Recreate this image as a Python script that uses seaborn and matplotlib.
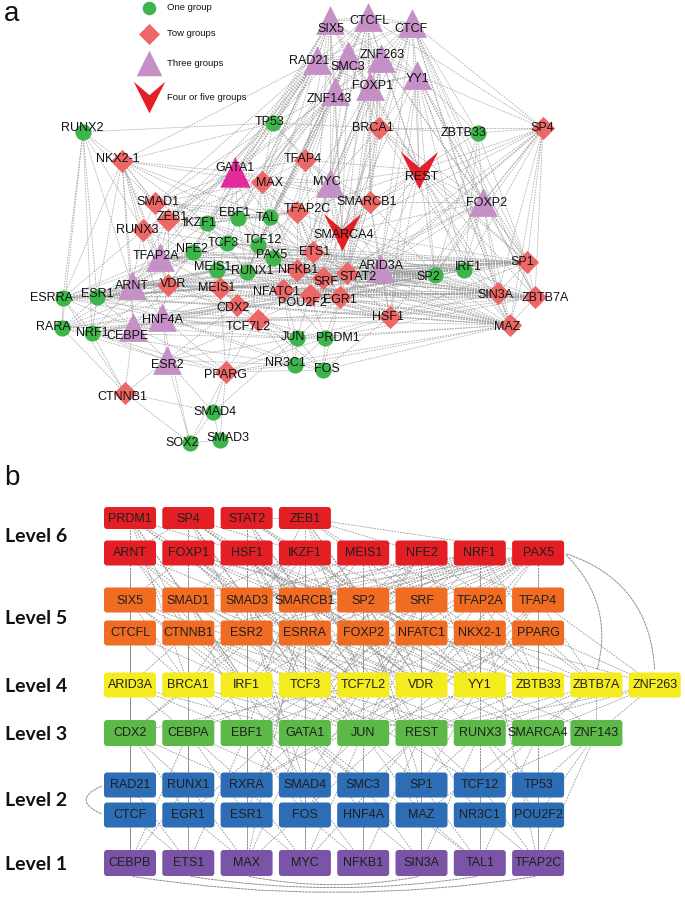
"""
Regulatory network of TFs (a) and the hierarchy levels of the same TFs (b).
"""

import matplotlib
matplotlib.use('Agg')

from matplotlib.patches import FancyBboxPatch, FancyArrowPatch
from matplotlib.collections import LineCollection
from matplotlib.path import Path

import matplotlib.pyplot as plt
import pandas as pd
import seaborn as sns


# ---------------- panel a data ----------------
one_group = ['TP53', 'ZBTB33', 'RUNX2', 'TAL', 'EBF1', 'IKZF1', 'NFE2', 'TCF3', 'TCF12', 'PAX5',
             'MEIS1', 'RUNX1', 'ESR1', 'ESRRA', 'NRF1', 'RARA', 'JUN', 'PRDM1', 'NR3C1', 'FOS',
             'SMAD4', 'SOX2', 'SMAD3', 'IRF1', 'SP2']
two_groups = ['BRCA1', 'SP4', 'NKX2-1', 'MAX', 'TFAP4', 'SMARCB1', 'TFAP2C', 'ZEB1', 'SMAD1',
              'RUNX3', 'ETS1', 'NFKB1', 'SRF', 'STAT2', 'EGR1', 'POU2F2', 'NFATC1', 'MEIS1b',
              'VDR', 'CDX2', 'TCF7L2', 'PPARG', 'CTNNB1', 'SP1', 'SIN3A', 'ZBTB7A', 'HSF1', 'MAZ']
three_groups = ['SIX5', 'CTCFL', 'CTCF', 'RAD21', 'SMC3', 'ZNF263', 'YY1', 'FOXP1', 'ZNF143',
                'MYC', 'TFAP2A', 'ARID3A', 'ARNT', 'HNF4A', 'CEBPE', 'ESR2', 'FOXP2']
highlighted = ['GATA1']
four_five_groups = ['REST', 'SMARCA4']

# node layout: name -> (x, y, label x, label y) in pixels
layout = {
    'SIX5': (330, 20, 331, 29), 'CTCFL': (368, 17, 369, 21), 'CTCF': (412, 23, 411, 29),
    'RAD21': (317, 60, 309, 61), 'SMC3': (348, 55, 348, 67), 'ZNF263': (381, 58, 382, 55),
    'YY1': (417, 75, 418, 79), 'FOXP1': (370, 86, 373, 86), 'ZNF143': (335, 91, 329, 99),
    'TP53': (273, 123, 270, 122), 'BRCA1': (379, 128, 373, 128), 'ZBTB33': (478, 133, 464, 133),
    'SP4': (543, 128, 542, 128), 'REST': (419, 170, 422, 177), 'RUNX2': (83, 132, 82, 128),
    'NKX2-1': (122, 161, 118, 159), 'GATA1': (235, 172, 235, 168), 'MAX': (262, 182, 270, 183),
    'TFAP4': (305, 160, 303, 159), 'MYC': (330, 183, 327, 182), 'SMARCB1': (370, 202, 367, 202),
    'SMARCA4': (342, 232, 344, 235), 'TFAP2C': (297, 212, 307, 209), 'TAL': (270, 217, 267, 218),
    'EBF1': (238, 218, 235, 213), 'IKZF1': (207, 223, 200, 223), 'ZEB1': (168, 220, 172, 217),
    'SMAD1': (155, 203, 158, 202), 'RUNX3': (143, 230, 137, 230), 'TFAP2A': (160, 257, 156, 256),
    'NFE2': (193, 252, 192, 249), 'TCF3': (227, 243, 223, 243), 'TCF12': (258, 245, 263, 240),
    'PAX5': (273, 258, 272, 255), 'ETS1': (313, 252, 315, 252), 'MEIS1': (217, 270, 213, 267),
    'RUNX1': (247, 272, 252, 271), 'NFKB1': (297, 270, 298, 270), 'SRF': (323, 278, 326, 282),
    'STAT2': (347, 273, 358, 277), 'ARID3A': (380, 268, 381, 266), 'EGR1': (340, 297, 340, 300),
    'POU2F2': (310, 295, 302, 303), 'NFATC1': (283, 290, 277, 292), 'MEIS1b': (220, 288, 217, 288),
    'VDR': (168, 285, 173, 284), 'ARNT': (132, 285, 132, 286), 'ESR1': (97, 297, 97, 294),
    'ESRRA': (63, 298, 52, 298), 'CDX2': (237, 305, 233, 308), 'TCF7L2': (258, 320, 248, 327),
    'HNF4A': (162, 317, 163, 320), 'CEBPE': (133, 327, 128, 336), 'NRF1': (92, 333, 92, 333),
    'RARA': (62, 328, 53, 327), 'JUN': (297, 338, 293, 337), 'PRDM1': (325, 338, 338, 338),
    'ESR2': (167, 360, 167, 365), 'PPARG': (226, 372, 225, 375), 'NR3C1': (295, 365, 285, 363),
    'FOS': (323, 370, 327, 369), 'CTNNB1': (125, 393, 122, 397), 'SMAD4': (213, 412, 215, 412),
    'SOX2': (190, 443, 182, 443), 'SMAD3': (220, 440, 228, 438), 'FOXP2': (483, 202, 487, 203),
    'SP1': (527, 262, 522, 262), 'IRF1': (464, 270, 468, 267), 'SP2': (435, 275, 428, 277),
    'SIN3A': (498, 293, 495, 295), 'ZBTB7A': (535, 297, 545, 298), 'HSF1': (390, 317, 388, 317),
    'MAZ': (510, 325, 507, 327),
}

a_edges = {
    'SIX5': 'CTCFL RAD21 SMC3 ZNF263 FOXP1 ZNF143 YY1 CTCF TP53 GATA1 MAX TFAP4 MYC NFE2 ETS1 TCF12 SMARCA4 BRCA1',
    'CTCFL': 'CTCF RAD21 SMC3 ZNF263 YY1 FOXP1 ZNF143 TP53 MYC MAX REST SMARCB1 ETS1 EGR1 TAL SP4 BRCA1',
    'CTCF': 'RAD21 SMC3 ZNF263 YY1 FOXP1 ZNF143 BRCA1 REST FOXP2 SP1 ZBTB7A MAZ SIN3A SMARCA4 MYC ZBTB33 SP4 STAT2 ARID3A',
    'RAD21': 'SMC3 ZNF263 ZNF143 FOXP1 TP53 GATA1 EBF1 IKZF1 ZEB1 TCF3 MAX NKX2-1 ARNT TFAP2A SMAD1 VDR',
    'SMC3': 'ZNF263 ZNF143 FOXP1 YY1 TFAP4 MYC MAX TCF12 PAX5 REST SMARCA4 TAL RUNX1',
    'ZNF263': 'YY1 FOXP1 ZNF143 BRCA1 REST SMARCB1 STAT2 EGR1 SP1 MYC FOXP2',
    'YY1': 'FOXP1 ZNF143 BRCA1 ZBTB33 REST FOXP2 SP1 ZBTB7A MAZ SIN3A SP2 IRF1 ARID3A SMARCA4 HSF1 SP4',
    'FOXP1': 'ZNF143 BRCA1 REST MYC SMARCB1 TFAP2C ETS1 NFKB1 STAT2 SRF',
    'ZNF143': 'TP53 TFAP4 MAX MYC GATA1 TFAP2C TAL TCF12 RUNX1 SMARCA4 IKZF1 ZEB1 EBF1 NFE2',
    'TP53': 'NKX2-1 RUNX2 GATA1 TFAP4 MAX SMAD1 ZEB1 MYC BRCA1',
    'BRCA1': 'REST ZBTB33 SP4 SMARCB1 MYC SMARCA4 STAT2 FOXP2 SP1 MAZ',
    'ZBTB33': 'SP4 REST FOXP2 SP1 SP2 IRF1',
    'SP4': 'REST FOXP2 SP1 ZBTB7A MAZ SIN3A IRF1 SP2 SMARCA4 STAT2 EGR1 HSF1 ARID3A SMARCB1',
    'REST': 'SMARCB1 SMARCA4 FOXP2 SP1 ZBTB7A MAZ SIN3A SP2 IRF1 ARID3A STAT2 HSF1 MYC TFAP4 TFAP2C',
    'RUNX2': 'NKX2-1 ESRRA RARA ESR1 ARNT RUNX3 SMAD1 NRF1',
    'NKX2-1': 'GATA1 MAX SMAD1 ZEB1 RUNX3 TFAP2A ARNT ESRRA ESR1 IKZF1 EBF1 VDR CEBPE HNF4A TAL',
    'GATA1': 'MAX TFAP4 MYC SMAD1 ZEB1 IKZF1 EBF1 TAL TFAP2C TCF3 TCF12 RUNX3 SMARCB1',
    'MAX': 'TFAP4 MYC SMARCB1 SMARCA4 TFAP2C TAL EBF1 IKZF1 ZEB1 SMAD1 TCF12 PAX5 ETS1 NFKB1 RUNX1',
    'TFAP4': 'MYC SMARCB1 TFAP2C SMARCA4 TAL ETS1',
    'MYC': 'SMARCB1 SMARCA4 TFAP2C ETS1 SRF STAT2 NFKB1 ARID3A EGR1',
    'SMARCB1': 'SMARCA4 ARID3A STAT2 SRF ETS1 EGR1 FOXP2 SP2 HSF1',
    'SMARCA4': 'TFAP2C ETS1 SRF STAT2 ARID3A EGR1 NFKB1 POU2F2 PAX5 SP2 IRF1 SP1',
    'MAZ': 'SP1 ZBTB7A SIN3A IRF1 SP2 HSF1 FOXP2 ARID3A STAT2 EGR1 SRF POU2F2 NFATC1 NFKB1 ETS1 PRDM1 FOS JUN NR3C1 TCF7L2 CDX2 MEIS1b PPARG RUNX1 PAX5 VDR ESR1',
    'SP1': 'ZBTB7A SIN3A IRF1 SP2 FOXP2 ARID3A STAT2 EGR1 SRF NFKB1 ETS1 PAX5 TCF12 RUNX1 MEIS1 NFE2 TFAP2A ARNT ESR1 HSF1',
    'ZBTB7A': 'SIN3A IRF1 SP2 FOXP2 HSF1 ARID3A STAT2 EGR1 POU2F2 SRF NFATC1 CDX2 VDR ARNT TCF7L2 PRDM1',
    'SIN3A': 'IRF1 SP2 FOXP2 HSF1 ARID3A STAT2 EGR1 POU2F2 SRF NFKB1 MEIS1 RUNX1 TCF3 VDR ARNT ESR1 ESRRA NFE2',
    'SP2': 'IRF1 ARID3A STAT2 EGR1 SRF NFKB1 ETS1 POU2F2 NFATC1 RUNX1 MEIS1 NFE2 TFAP2A VDR ARNT ESR1 ESRRA RARA NRF1 CEBPE HNF4A MEIS1b CDX2 FOXP2',
    'IRF1': 'ARID3A STAT2 EGR1 SRF FOXP2 ETS1 RUNX1 PAX5 TCF3 ARNT ESR1 ESRRA',
    'HSF1': 'ARID3A EGR1 STAT2 POU2F2 NFATC1 TCF7L2 CDX2 PRDM1 JUN FOS MEIS1b VDR HNF4A',
    'ARID3A': 'STAT2 SRF EGR1 ETS1 NFKB1 POU2F2 FOXP2',
    'FOXP2': 'SMARCA4 STAT2 SRF',
    'ESRRA': 'ESR1 RARA NRF1 ARNT CEBPE TFAP2A VDR HNF4A RUNX3 MEIS1 RUNX1 CDX2 TCF7L2 MEIS1b NFE2 CTNNB1',
    'RARA': 'ESR1 NRF1 CEBPE HNF4A ARNT ESR2 CTNNB1 VDR TCF7L2 MEIS1b',
    'ESR1': 'NRF1 ARNT CEBPE TFAP2A VDR HNF4A MEIS1 RUNX1 NFE2 CDX2 TCF3 PAX5',
    'NRF1': 'CEBPE HNF4A ARNT ESR2 VDR CDX2 TCF7L2 JUN CTNNB1 PPARG NR3C1',
    'ARNT': 'TFAP2A VDR HNF4A CEBPE RUNX3 ZEB1 NFE2 MEIS1 MEIS1b TCF3 RUNX1 PAX5 CDX2 NFKB1',
    'CEBPE': 'HNF4A ESR2 VDR PPARG CTNNB1 CDX2 TCF7L2 JUN',
    'HNF4A': 'VDR ESR2 PPARG CDX2 TCF7L2 MEIS1b NFATC1 JUN NR3C1 FOS PRDM1 EGR1',
    'ESR2': 'PPARG CTNNB1 SOX2 SMAD4 CDX2 TCF7L2 JUN NR3C1',
    'PPARG': 'SMAD4 SOX2 SMAD3 NR3C1 FOS JUN PRDM1 TCF7L2 CDX2 MEIS1b',
    'CTNNB1': 'SOX2 SMAD4',
    'SMAD4': 'SOX2 SMAD3 JUN',
    'SOX2': 'SMAD3 HNF4A',
    'TFAP2A': 'NFE2 VDR ZEB1 RUNX3 SMAD1 IKZF1 TCF3 MEIS1 RUNX1 PAX5 ETS1 NFKB1 MEIS1b',
    'ZEB1': 'SMAD1 RUNX3 IKZF1 EBF1 NFE2 TCF3 TCF12 TAL TFAP2C VDR',
    'SMAD1': 'RUNX3 IKZF1 EBF1 TAL TFAP2C',
    'RUNX3': 'NFE2 VDR IKZF1 TCF3',
    'IKZF1': 'EBF1 TCF3 TCF12 TAL TFAP2C NFE2 MEIS1 RUNX1 PAX5 ETS1',
    'EBF1': 'TAL TCF12 TCF3 PAX5 TFAP2C ETS1 NFKB1 RUNX1',
    'TAL': 'TFAP2C TCF12 PAX5 ETS1 NFKB1 SRF STAT2 RUNX1',
    'TFAP2C': 'ETS1 NFKB1 SRF STAT2 PAX5 TCF12 EGR1 POU2F2',
    'NFE2': 'TCF3 MEIS1 RUNX1 VDR MEIS1b CDX2',
    'TCF3': 'TCF12 PAX5 MEIS1 RUNX1 ETS1 NFKB1',
    'TCF12': 'PAX5 ETS1 RUNX1 NFKB1 SRF',
    'PAX5': 'ETS1 RUNX1 NFKB1 SRF STAT2 NFATC1 POU2F2 EGR1',
    'ETS1': 'NFKB1 SRF STAT2 EGR1 POU2F2 NFATC1',
    'MEIS1': 'RUNX1 MEIS1b VDR CDX2 NFATC1',
    'RUNX1': 'NFKB1 NFATC1 POU2F2 CDX2 MEIS1b TCF7L2',
    'NFKB1': 'SRF STAT2 EGR1 POU2F2 NFATC1',
    'SRF': 'STAT2 EGR1 POU2F2',
    'STAT2': 'EGR1 POU2F2',
    'EGR1': 'POU2F2 NFATC1 JUN PRDM1 FOS',
    'POU2F2': 'NFATC1 JUN PRDM1 TCF7L2',
    'NFATC1': 'CDX2 TCF7L2 JUN PRDM1 NR3C1',
    'MEIS1b': 'VDR CDX2 TCF7L2',
    'VDR': 'CDX2 TCF7L2',
    'CDX2': 'TCF7L2 JUN',
    'TCF7L2': 'JUN PRDM1 NR3C1 FOS',
    'JUN': 'PRDM1 NR3C1 FOS',
    'PRDM1': 'FOS NR3C1',
    'NR3C1': 'FOS',
}

legend_labels = ['One group', 'Tow groups', 'Three groups', 'Four or five groups']

# ---------------- panel b data ----------------
level_names = ['Level 6', 'Level 5', 'Level 4', 'Level 3', 'Level 2', 'Level 1']
level6_a = ['PRDM1', 'SP4', 'STAT2', 'ZEB1']
level6_b = ['ARNT', 'FOXP1', 'HSF1', 'IKZF1', 'MEIS1', 'NFE2', 'NRF1', 'PAX5']
level5_a = ['SIX5', 'SMAD1', 'SMAD3', 'SMARCB1', 'SP2', 'SRF', 'TFAP2A', 'TFAP4']
level5_b = ['CTCFL', 'CTNNB1', 'ESR2', 'ESRRA', 'FOXP2', 'NFATC1', 'NKX2-1', 'PPARG']
level4 = ['ARID3A', 'BRCA1', 'IRF1', 'TCF3', 'TCF7L2', 'VDR', 'YY1', 'ZBTB33', 'ZBTB7A', 'ZNF263']
level3 = ['CDX2', 'CEBPA', 'EBF1', 'GATA1', 'JUN', 'REST', 'RUNX3', 'SMARCA4', 'ZNF143']
level2_a = ['RAD21', 'RUNX1', 'RXRA', 'SMAD4', 'SMC3', 'SP1', 'TCF12', 'TP53']
level2_b = ['CTCF', 'EGR1', 'ESR1', 'FOS', 'HNF4A', 'MAZ', 'NR3C1', 'POU2F2']
level1 = ['CEBPB', 'ETS1', 'MAX', 'MYC', 'NFKB1', 'SIN3A', 'TAL1', 'TFAP2C']

b_edges = {
    'PRDM1': 'FOXP1 SMAD1 CTCFL CTNNB1 BRCA1 CDX2 HSF1 SMAD3 IRF1 TCF7L2',
    'SP4': 'ARNT FOXP1 SMAD1 SMAD3 CTNNB1 ESR2 TCF3 YY1 IKZF1 SMARCB1 VDR FOXP2',
    'STAT2': 'HSF1 IKZF1 SMARCB1 ESRRA IRF1 SMAD3 SP2 NFATC1 TCF7L2 ZEB1',
    'ZEB1': 'IKZF1 MEIS1 SP2 ESR2 FOXP2 TCF7L2 SRF NFE2 VDR PAX5',
    'ARNT': 'SIX5 CTCFL ARID3A CDX2 RAD21 CTCF CEBPB SMAD1 CTNNB1 ESR2 SMAD3 IRF1',
    'FOXP1': 'SIX5 SMAD3 SMARCB1 CTNNB1 ESRRA BRCA1 TCF3 ZNF263 SP2 FOXP2 TCF7L2',
    'HSF1': 'SMAD1 SMAD3 SP2 ESR2 FOXP2 NFATC1 IRF1 VDR SMARCB1 ESRRA TCF3 JUN',
    'IKZF1': 'SMAD3 SMARCB1 SRF ESRRA NFATC1 TCF3 EBF1 GATA1 SMAD1 ESR2 TCF7L2 YY1',
    'MEIS1': 'SMARCB1 SP2 TFAP2A FOXP2 NKX2-1 TCF7L2 CDX2 SMAD3 ESRRA VDR',
    'NFE2': 'SP2 SRF TFAP4 NFATC1 PPARG GATA1 VDR SMARCB1 FOXP2 TCF3 YY1',
    'NRF1': 'SMAD1 SMARCB1 SRF TFAP2A ESR2 FOXP2 NKX2-1 PPARG YY1 ZBTB33 SMAD3 SP2 ESRRA TCF7L2 IRF1',
    'PAX5': 'SMAD3 SP2 SRF TFAP2A TFAP4 CTNNB1 ESRRA FOXP2 NFATC1 NKX2-1 PPARG ZBTB33 EBF1 SMARCB1 ESR2 VDR TCF3',
    'SIX5': 'ARID3A BRCA1 TCF3 CTCF RAD21 SMC3 IRF1 TCF7L2',
    'SMAD1': 'BRCA1 IRF1 TCF7L2 CEBPA EBF1 SMAD4 TCF3 VDR',
    'SMAD3': 'IRF1 TCF7L2 VDR JUN SMAD4 FOS TCF3 BRCA1',
    'SMARCB1': 'TCF3 VDR REST SMARCA4 MAX IRF1 YY1 TCF7L2',
    'SP2': 'TCF7L2 YY1 SP1 MAZ VDR TCF3 ZBTB33',
    'SRF': 'VDR YY1 JUN FOS EGR1 TCF7L2 ZBTB33',
    'TFAP2A': 'YY1 ZBTB33 GATA1 TFAP2C VDR ZBTB7A',
    'TFAP4': 'ZBTB33 ZBTB7A MYC MAX YY1 ZNF263',
    'CTCFL': 'ARID3A CDX2 CTCF RAD21 BRCA1 IRF1',
    'CTNNB1': 'BRCA1 IRF1 TCF7L2 JUN TCF3 ARID3A',
    'ESR2': 'IRF1 TCF3 VDR ESR1 TCF7L2 BRCA1',
    'ESRRA': 'TCF3 TCF7L2 VDR ESR1 IRF1 YY1',
    'FOXP2': 'TCF7L2 VDR YY1 REST TCF3 ZBTB33',
    'NFATC1': 'VDR YY1 ZBTB33 JUN TCF7L2 ZBTB7A',
    'NKX2-1': 'YY1 ZBTB33 ZBTB7A RUNX3 VDR TCF7L2',
    'PPARG': 'ZBTB33 ZBTB7A ZNF263 RXRA YY1 VDR',
    'ARID3A': 'CDX2 CEBPA EBF1 RAD21 CTCF CEBPB GATA1',
    'BRCA1': 'CEBPA EBF1 GATA1 RUNX1 EGR1 JUN CDX2',
    'IRF1': 'EBF1 GATA1 JUN ESR1 CEBPA REST',
    'TCF3': 'GATA1 JUN REST EBF1 TCF12 CEBPA RUNX3',
    'TCF7L2': 'JUN REST RUNX3 CDX2 SMAD4 GATA1 EBF1',
    'VDR': 'REST RUNX3 SMARCA4 RXRA JUN GATA1',
    'YY1': 'RUNX3 SMARCA4 ZNF143 SP1 REST JUN',
    'ZBTB33': 'SMARCA4 ZNF143 REST RUNX3 JUN',
    'ZBTB7A': 'ZNF143 SMARCA4 RUNX3 MAZ REST',
    'ZNF263': 'ZNF143 SMARCA4 RUNX3 REST',
    'CDX2': 'RAD21 RUNX1 CTCF EGR1 CEBPB RXRA',
    'CEBPA': 'RUNX1 RXRA EGR1 ESR1 CEBPB ETS1 SMAD4',
    'EBF1': 'RXRA SMAD4 ESR1 FOS ETS1 MAX SMC3',
    'GATA1': 'SMAD4 SMC3 FOS HNF4A MAX MYC TAL1 RXRA',
    'JUN': 'SMC3 SP1 HNF4A MAZ MYC NFKB1 SMAD4',
    'REST': 'SP1 TCF12 MAZ NR3C1 SIN3A NFKB1 SMC3',
    'RUNX3': 'TCF12 TP53 NR3C1 POU2F2 SIN3A TAL1 SP1',
    'SMARCA4': 'TP53 POU2F2 TAL1 TFAP2C TCF12',
    'ZNF143': 'TP53 POU2F2 TFAP2C TCF12',
    'RAD21': 'CEBPB ETS1',
    'RUNX1': 'ETS1 MAX CEBPB',
    'RXRA': 'MAX MYC',
    'SMAD4': 'MYC NFKB1',
    'SMC3': 'NFKB1 SIN3A',
    'SP1': 'SIN3A TAL1',
    'TCF12': 'TAL1 TFAP2C',
    'TP53': 'TFAP2C',
    'CTCF': 'CEBPB ETS1',
    'EGR1': 'ETS1 MAX',
    'ESR1': 'MAX MYC',
    'FOS': 'MYC NFKB1',
    'HNF4A': 'NFKB1 SIN3A',
    'MAZ': 'SIN3A TAL1',
    'NR3C1': 'TAL1 TFAP2C',
    'POU2F2': 'TFAP2C',
}

# curved links drawn outside the grid: (from, side, to, side, bend)
b_arcs = [('PAX5', 'right', 'ZNF263', 'top', -0.35),
          ('PAX5', 'right', 'ZBTB7A', 'top', -0.3),
          ('CEBPB', 'bottom', 'TFAP2C', 'bottom', 0.08),
          ('ETS1', 'bottom', 'TAL1', 'bottom', 0.08),
          ('MAX', 'bottom', 'SIN3A', 'bottom', 0.1),
          ('RAD21', 'left', 'CTCF', 'left', 1.2)]


# ---------------- plotting ----------------
sns.set_theme(style='white')
plt.rcParams['font.family'] = ['Liberation Sans', 'DejaVu Sans']

fig = plt.figure(figsize=(6.85, 8.98), dpi=100)
ax = fig.add_axes([0, 0, 1, 1])
ax.set_xlim(0, 685)
ax.set_ylim(898, 0)
ax.axis('off')

edge_col = '#9a9a9a'
dash = (0, (2.2, 1.3))

# panel a: edges
segs = []
seen = set()
for src, targets in a_edges.items():
    for tgt in targets.split():
        key = tuple(sorted((src, tgt)))
        if key in seen or src == tgt:
            continue
        seen.add(key)
        segs.append([layout[src][:2], layout[tgt][:2]])
ax.add_collection(LineCollection(segs, colors=edge_col, linewidths=0.55, linestyles=dash,
                                 alpha=0.85, zorder=1))

# panel a: nodes
vee = Path([(-1, 1), (0, -1), (1, 1), (0, 0.15), (-1, 1)],
           [Path.MOVETO, Path.LINETO, Path.LINETO, Path.LINETO, Path.CLOSEPOLY])
node_styles = [(one_group, 'o', '#3DB54A', 135),
               (two_groups, 'D', '#EE6767', 140),
               (three_groups, '^', '#C590C6', 430),
               (highlighted, '^', '#E4299C', 480),
               (four_five_groups, vee, '#E41F28', 720)]
for names, mk, col, size in node_styles:
    df = pd.DataFrame({'x': [layout[n][0] for n in names], 'y': [layout[n][1] for n in names]})
    sns.scatterplot(data=df, x='x', y='y', marker=mk, s=size, color=col, linewidth=0,
                    ax=ax, zorder=3, legend=False)

for name, (x, y, lx, ly) in layout.items():
    label = 'MEIS1' if name == 'MEIS1b' else name
    ax.text(lx, ly, label, ha='center', va='center', fontsize=9, color='#111111', zorder=4)

# panel a: legend
leg_y = [8, 34, 63, 97]
leg_styles = [('o', '#3DB54A', 95), ('D', '#EE6767', 115), ('^', '#C590C6', 340), (vee, '#E41F28', 520)]
for yy, (mk, col, size), txt in zip(leg_y, leg_styles, legend_labels):
    ax.scatter([149], [yy], marker=mk, s=size, color=col, linewidths=0, zorder=3)
    ax.text(167, yy, txt, ha='left', va='center', fontsize=6.8, color='#111111')

ax.text(12, 14, 'a', ha='center', va='center', fontsize=20, color='#111111')
ax.text(12, 478, 'b', ha='center', va='center', fontsize=20, color='#111111')

# panel b: boxes
box_w = 52
rows = [(level6_a, 518, 22, '#E31E25'), (level6_b, 553, 25, '#E31E25'),
        (level5_a, 600, 25, '#EF6C22'), (level5_b, 633, 25, '#EF6C22'),
        (level4, 685, 25, '#F5EC1F'), (level3, 733, 26, '#5CB947'),
        (level2_a, 785, 25, '#2D6DB5'), (level2_b, 815, 25, '#2D6DB5'),
        (level1, 863, 26, '#7A55A7')]
level_y = [537, 618, 687, 735, 800, 865]

boxes = {}
for names, yc, h, col in rows:
    for i, n in enumerate(names):
        boxes[n] = (130 + 58.3 * i, yc, h, col)

segs = []
for src, targets in b_edges.items():
    for tgt in targets.split():
        segs.append([boxes[src][:2], boxes[tgt][:2]])
ax.add_collection(LineCollection(segs, colors='#8e8e8e', linewidths=0.6, linestyles=dash,
                                 alpha=0.9, zorder=1))


def anchor(name, side):
    x, y, h, _ = boxes[name]
    return {'left': (x - box_w / 2, y), 'right': (x + box_w / 2, y),
            'top': (x, y - h / 2), 'bottom': (x, y + h / 2)}[side]


for a, sa, b, sb, rad in b_arcs:
    ax.add_patch(FancyArrowPatch(anchor(a, sa), anchor(b, sb), arrowstyle='-',
                                 connectionstyle='arc3,rad=%s' % rad, color='#8e8e8e',
                                 linewidth=0.7, linestyle=dash, zorder=1))

for n, (x, y, h, col) in boxes.items():
    ax.add_patch(FancyBboxPatch((x - box_w / 2, y - h / 2), box_w, h,
                                boxstyle='round,pad=0,rounding_size=3', fc=col, ec='none', zorder=3))
    ax.text(x, y + 0.5, n, ha='center', va='center', fontsize=9, color='#1e1e1e', zorder=4)

for yy, txt in zip(level_y, level_names):
    ax.text(36, yy, txt, ha='center', va='center', fontsize=14, fontweight='bold',
            family=['Lato', 'DejaVu Sans'], color='#111111')

fig.savefig('out.png', dpi=100)
